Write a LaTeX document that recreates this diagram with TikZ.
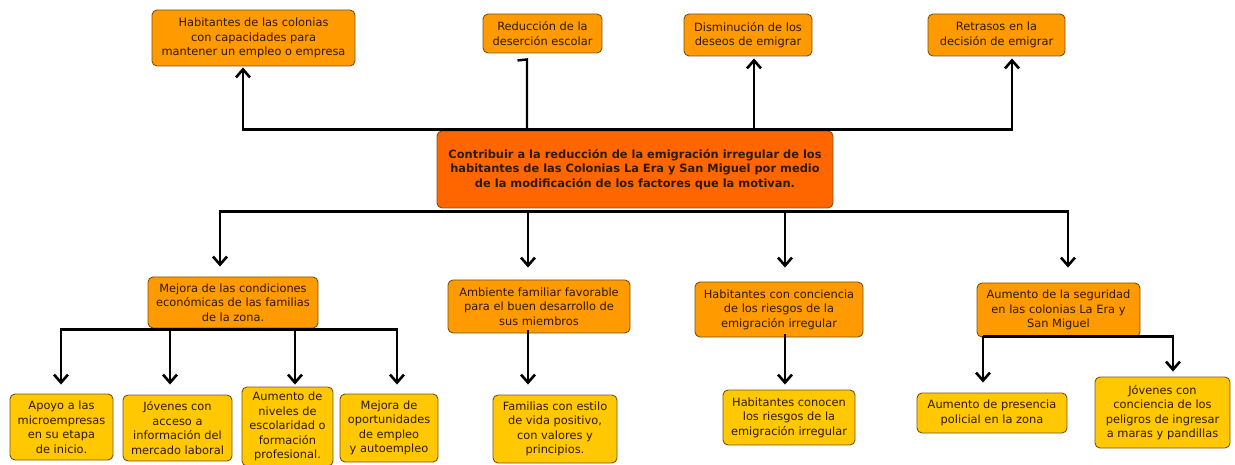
\documentclass[tikz,border=0pt]{standalone}
\usepackage{fontspec}
\setmainfont{DejaVu Sans}
\usetikzlibrary{arrows.meta}
\definecolor{orangebox}{HTML}{FF9A00}
\definecolor{centerbox}{HTML}{FF6600}
\definecolor{yellowbox}{HTML}{FFC800}
\definecolor{boxline}{HTML}{7A5210}
\definecolor{boxtext}{HTML}{2E1A00}
\tikzset{
  box/.style={draw=boxline, line width=0.9pt, rounded corners=5pt, align=center,
    text=boxtext, inner sep=0pt, font=\fontsize{11.4}{14.5}\selectfont},
  obox/.style={box, fill=orangebox},
  ybox/.style={box, fill=yellowbox},
  cbox/.style={box, fill=centerbox, font=\fontsize{11.4}{14.5}\selectfont\bfseries},
  arr/.style={line width=2.4pt, -{Straight Barb[length=8pt,width=14pt,line width=2.6pt]}},
  ln/.style={line width=2.4pt},
}
\begin{document}
\begin{tikzpicture}[x=1pt,y=-1pt]
\useasboundingbox (0,0) rectangle (1235,465);
% top row
\node[obox, minimum width=203, minimum height=56] (t1) at (253.5,38) {Habitantes de las colonias\\con capacidades para\\mantener un empleo o empresa};
\node[obox, minimum width=119, minimum height=39] (t2) at (542.5,33.5) {Reducción de la\\deserción escolar};
\node[obox, minimum width=128, minimum height=42] (t3) at (748,35) {Disminución de los\\deseos de emigrar};
\node[obox, minimum width=137, minimum height=42] (t4) at (996.5,35) {Retrasos en la\\decisión de emigrar};
% center
\node[cbox, minimum width=396, minimum height=77] (c) at (635,169.5) {Contribuir a la reducción de la emigración irregular de los\\habitantes de las Colonias La Era y San Miguel por medio\\de la modificación de los factores que la motivan.};
% middle row
\node[obox, minimum width=170, minimum height=51] (m1) at (233,302.5) {Mejora de las condiciones\\económicas de las familias\\de la zona.};
\node[obox, minimum width=182, minimum height=53] (m2) at (539,306.5) {Ambiente familiar favorable\\para el buen desarrollo de\\sus miembros};
\node[obox, minimum width=168, minimum height=55] (m3) at (779,309.5) {Habitantes con conciencia\\de los riesgos de la\\emigración irregular};
\node[obox, minimum width=163, minimum height=54] (m4) at (1058.5,310) {Aumento de la seguridad\\en las colonias La Era y\\San Miguel};
% bottom row
\node[ybox, minimum width=103, minimum height=66] (b1) at (61.5,427) {Apoyo a las\\microempresas\\en su etapa\\de inicio.};
\node[ybox, minimum width=109, minimum height=66] (b2) at (177.5,428) {Jóvenes con\\acceso a\\información del\\mercado laboral};
\node[ybox, minimum width=91, minimum height=79] (b3) at (287.5,426.5) {Aumento de\\niveles de\\escolaridad o\\formación\\profesional.};
\node[ybox, minimum width=98, minimum height=68] (b4) at (389,428) {Mejora de\\oportunidades\\de empleo\\y autoempleo};
\node[ybox, minimum width=124, minimum height=68] (b5) at (555,429) {Familias con estilo\\de vida positivo,\\con valores y\\principios.};
\node[ybox, minimum width=132, minimum height=55] (b6) at (789,417.5) {Habitantes conocen\\los riesgos de la\\emigración irregular};
\node[ybox, minimum width=150, minimum height=40] (b7) at (992,413) {Aumento de presencia\\policial en la zona};
\node[ybox, minimum width=135, minimum height=71] (b8) at (1162.5,412.5) {Jóvenes con\\conciencia de los\\peligros de ingresar\\a maras y pandillas};
% connectors: center to top row
\coordinate (up) at ([yshift=1pt]c.north);
\draw[arr, shorten >=1pt] (up) -| ([xshift=-10.5pt]t1.south);
\draw[arr, shorten >=2pt] (up) -| ([xshift=6pt]t3.south);
\draw[arr, shorten >=2pt] (up) -| ([xshift=15.5pt]t4.south);
\draw[ln, line join=miter] (up) -| ([xshift=-15.5pt,yshift=-6pt]t2.south) -- ([xshift=-25pt,yshift=-7pt]t2.south);
% center to middle row
\coordinate (down) at ([yshift=-3pt]c.south);
\draw[arr, shorten >=10pt] (down) -| ([xshift=-13pt]m1.north);
\draw[arr, shorten >=12pt] (down) -| ([xshift=-11pt]m2.north);
\draw[arr, shorten >=14pt] (down) -| ([xshift=6pt]m3.north);
\draw[arr, shorten >=15pt] (down) -| ([xshift=9.5pt]m4.north);
% m1 subtree
\coordinate (s1) at ([yshift=-1pt]m1.south);
\draw[arr, shorten >=9pt] (s1) -| ([xshift=-0.5pt]b1.north);
\draw[arr, shorten >=10pt] (s1) -| ([xshift=-7.5pt]b2.north);
\draw[arr, shorten >=2pt] (s1) -| ([xshift=7.5pt]b3.north);
\draw[arr, shorten >=9pt] (s1) -| ([xshift=8pt]b4.north);
% m2, m3
\draw[arr, shorten >=10pt] ([xshift=-11pt,yshift=3pt]m2.south) -- ([xshift=-27pt]b5.north);
\draw[arr, shorten >=5pt] ([xshift=6pt,yshift=3pt]m3.south) -- ([xshift=-4pt]b6.north);
% m4 subtree
\coordinate (s4) at ([xshift=-75.5pt,yshift=1pt]m4.south);
\draw[arr, shorten >=10pt] (s4) -- ([xshift=-9pt]b7.north);
\draw[arr, shorten >=5pt] (s4) -| ([xshift=10.5pt]b8.north);
\end{tikzpicture}
\end{document}
